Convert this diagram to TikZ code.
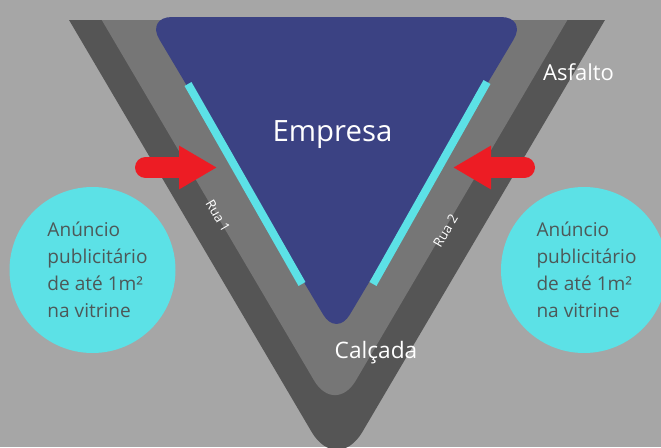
\documentclass[tikz,border=0pt]{standalone}
\usepackage{fontspec}
\setmainfont{Open Sans}
\usetikzlibrary{arrows.meta}

\definecolor{fundo}{HTML}{A6A6A6}
\definecolor{asfalto}{HTML}{555555}
\definecolor{calcada}{HTML}{767676}
\definecolor{empresa}{HTML}{3B4283}
\definecolor{vitrine}{HTML}{5CE1E6}
\definecolor{seta}{HTML}{ED1C24}
\definecolor{letraanuncio}{HTML}{4D5858}

\tikzset{every picture/.style={line width=0.75pt}}
\tikzset{
  anuncio/.style={circle, fill=vitrine, minimum size=124.5pt, inner sep=0pt},
  textoanuncio/.style={anchor=west, align=left, inner sep=0pt, text=letraanuncio, font=\fontsize{14.3pt}{20.2pt}\selectfont},
  rotulo/.style={anchor=base, text=white, inner sep=0pt},
  rua/.style={text=white, inner sep=0pt, font=\fontsize{10pt}{12pt}\selectfont},
  faixa/.style={vitrine, line width=6pt},
  setaanuncio/.style={seta, line width=15.75pt, line cap=round, -{Triangle[length=28.5pt, width=30.75pt]}},
}

\begin{document}
\begin{tikzpicture}[x=0.75pt,y=0.75pt,yscale=-1,xscale=1]
    \useasboundingbox (0,0) rectangle (661,447);
    \fill[fundo] (0,0) rectangle (661,447);

    %Asfalto e calcada (cortados no topo)
    \begin{scope}
    \clip (0,20) rectangle (661,447);
    \fill[asfalto, rounded corners=37.5pt] (33.7,-40) -- (640.3,-40) -- (337,475) -- cycle;
    \fill[calcada, rounded corners=31pt] (66.4,-40) -- (602.6,-40) -- (335,416) -- cycle;
    \end{scope}

    %Empresa
    \fill[empresa, rounded corners=19.5pt] (146,17) -- (527,17) -- (336.5,337) -- cycle;

    %Vitrines
    \coordinate (vitrine1a) at (188,84);
    \coordinate (vitrine1b) at (302,284);
    \coordinate (vitrine2a) at (487,82);
    \coordinate (vitrine2b) at (373,284);
    \draw[faixa] (vitrine1a) -- (vitrine1b);
    \draw[faixa] (vitrine2a) -- (vitrine2b);

    % Text Node
    \node[rotulo, font=\fontsize{22pt}{26pt}\selectfont] (empresa) at (332.5,141) {Empresa};
    % Text Node
    \node[rotulo, font=\fontsize{16.5pt}{20pt}\selectfont] (asfalto) at (578.5,80) {Asfalto};
    % Text Node
    \node[rotulo, font=\fontsize{17pt}{20pt}\selectfont] (calcada) at (376,358) {Calçada};
    % Text Node
    \node[rua, rotate=-59.5] (rua1) at (218,216) {Rua 1};
    % Text Node
    \node[rua, rotate=59.5] (rua2) at (445.5,231) {Rua 2};

    %Setas
    \coordinate (cauda1) at (145.5,167.5);
    \coordinate (ponta1) at (217,167.5);
    \coordinate (cauda2) at (524.5,167.5);
    \coordinate (ponta2) at (453,167.5);
    \draw[setaanuncio] (cauda1) -- (ponta1);
    \draw[setaanuncio] (cauda2) -- (ponta2);

    %Anuncios
    \node[anuncio] (anuncio1) at (92.5,270) {};
    \node[anuncio] (anuncio2) at (584,270) {};
    % Text Node
    \node[textoanuncio] (texto1) at (47,270) {Anúncio\\publicitário\\de até 1m²\\na vitrine};
    % Text Node
    \node[textoanuncio] (texto2) at (536,270) {Anúncio\\publicitário\\de até 1m²\\na vitrine};

\end{tikzpicture}
\end{document}
